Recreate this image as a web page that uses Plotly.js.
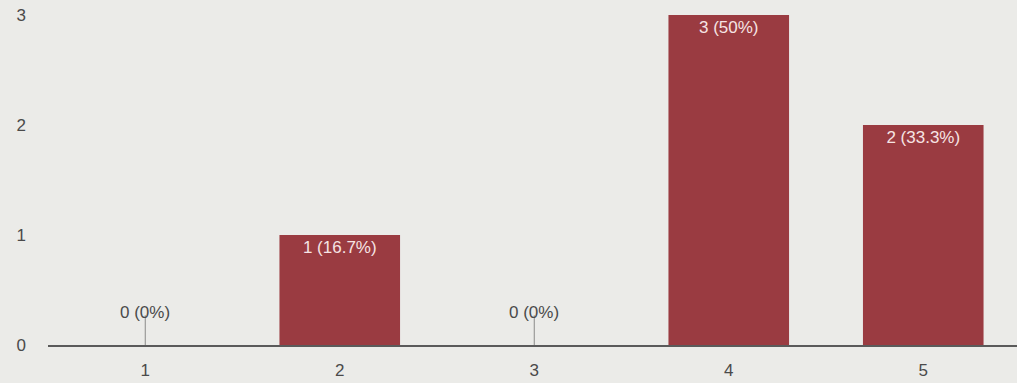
<!DOCTYPE html>
<html>
<head>
<meta charset="utf-8">
<script src="https://cdn.plot.ly/plotly-3.0.1.min.js"></script>
<style>html,body{margin:0;padding:0;background:#ebebe8;}</style>
</head>
<body>
<div id="chart" style="width:1017px;height:383px;"></div>
<script>
const categories = ['1', '2', '3', '4', '5'];
const counts = [0, 1, 0, 3, 2];
const yTicks = [0, 1, 2, 3];

const total = counts.reduce((a, b) => a + b, 0);
const labels = counts.map(c => {
  const p = Math.round(c / total * 1000) / 10;
  return c + ' (' + p + '%)';
});
const barColor = '#9a3b41';
const FONT = 'Liberation Sans, Arial, sans-serif';

const zeroIdx = counts.map((c, i) => c === 0 ? i : -1).filter(i => i >= 0);

const bars = {
  type: 'bar',
  x: categories,
  y: counts,
  marker: {color: barColor},
  text: counts.map((c, i) => c === 0 ? '' : labels[i]),
  textposition: 'inside',
  insidetextanchor: 'end',
  constraintext: 'none',
  textfont: {family: FONT, size: 17, color: '#f6e4e4'},
  hoverinfo: 'none',
  cliponaxis: false
};

const zeroStems = {
  type: 'scatter',
  mode: 'markers',
  x: zeroIdx.map(i => categories[i]),
  y: zeroIdx.map(i => counts[i]),
  marker: {size: 1, color: 'rgba(0,0,0,0)'},
  error_y: {type: 'data', symmetric: false, array: zeroIdx.map(() => 0.27), arrayminus: zeroIdx.map(() => 0), width: 0, thickness: 1, color: '#8a8a88'},
  hoverinfo: 'none',
  cliponaxis: false
};

const annotations = zeroIdx.map(i => ({
  x: i, y: counts[i], xref: 'x', yref: 'y', text: labels[i], showarrow: false,
  yshift: 33, font: {family: FONT, size: 17, color: '#4a4a4a'}
}));

const layout = {
  width: 1017, height: 383,
  margin: {l: 48, r: 0, t: 15, b: 38},
  paper_bgcolor: '#ebebe8',
  plot_bgcolor: '#ebebe8',
  showlegend: false,
  bargap: 0.38,
  font: {family: FONT, size: 17, color: '#4a4a4a'},
  xaxis: {
    type: 'category',
    range: [-0.5, 4.482],
    showline: true, linecolor: '#5a5a5a', linewidth: 2,
    showgrid: false, zeroline: false, ticks: '',
    ticklabelstandoff: 9,
    tickfont: {size: 17, color: '#4a4a4a'},
    fixedrange: true
  },
  yaxis: {
    range: [0, 3],
    tickvals: yTicks,
    ticktext: yTicks.map(String),
    showgrid: false, zeroline: false, showline: false, ticks: '',
    ticklabelstandoff: 21,
    tickfont: {size: 17, color: '#4a4a4a'},
    fixedrange: true
  },
  annotations: annotations
};

Plotly.newPlot('chart', [bars, zeroStems], layout, {displayModeBar: false, staticPlot: true});
</script>
</body>
</html>
